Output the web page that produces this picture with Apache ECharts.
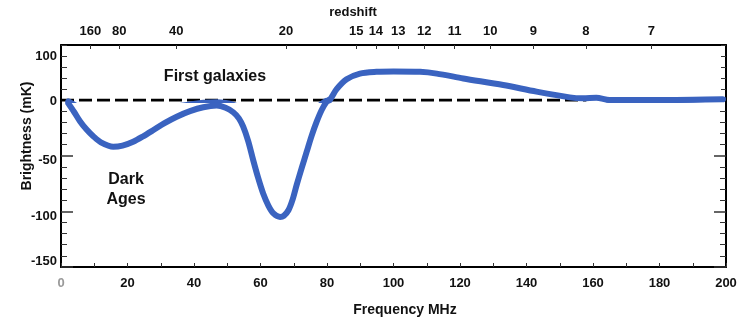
<!DOCTYPE html>
<html>
<head>
<meta charset="utf-8">
<script src="https://cdn.jsdelivr.net/npm/echarts@6/dist/echarts.min.js"></script>
<style>
html,body{margin:0;padding:0;background:#fff;}
#chart{width:741px;height:320px;}
</style>
</head>
<body>
<div id="chart"></div>
<script>
// ---- data ----
const freqMHz = [2.2, 4, 5.7, 7.7, 9.7, 12, 15.7, 18.5, 21.7, 24.5, 27.8, 31, 34.8, 38.8, 42.8, 46.8, 49.5, 51.8, 53.5, 54.8, 56.3, 57.8, 59.3, 60.8, 62.4, 63.9, 65.9, 67, 68.4, 69.7, 70.9, 72.4, 73.9, 75.4, 76.9, 78.4, 79.9, 80.8, 82.9, 85.9, 89.9, 94.9, 100, 108, 113, 121, 133, 143, 153, 157, 161, 165, 170, 180, 190, 199];
const brightness = [-3, -11, -19, -26.5, -32.5, -38, -42, -41, -37.5, -33, -27, -21, -15, -10, -6.5, -5, -7, -11, -16.5, -24, -37, -54, -70, -84, -95, -101.8, -105, -104, -99, -89, -76, -61, -46.4, -32, -19.5, -9, -1.5, 0, 24.5, 47, 60, 64, 65, 64, 60, 49, 34, 19, 6, 4, 5, 0, 0, 0, 0.5, 1.5];
const redshiftLabels = [160, 80, 40, 20, 15, 14, 13, 12, 11, 10, 9, 8, 7];
const zeroLineRange = [0, 158];
const upperTickLabels = [100];
const lowerTickLabels = [0, -50, -100, -150];

// 21-cm line rest frequency (MHz) maps redshift to observed frequency
const REST = 1420.4;
const redshiftFreqs = redshiftLabels.map(z => REST / (1 + z));
const curve = freqMHz.map((f, i) => [f, brightness[i]]);

const FONT = '"Liberation Sans", Arial, sans-serif';
const BLUE = '#3a63c0';
const lineAx = {show: true, onZero: false, lineStyle: {color: '#000', width: 2}};
const labelFont = {fontFamily: FONT, fontWeight: 'bold', fontSize: 13, color: '#111'};

const chart = echarts.init(document.getElementById('chart'), null, {renderer: 'canvas'});
chart.setOption({
  animation: false,
  backgroundColor: '#fff',
  grid: [
    {left: 61, right: 15, top: 45, height: 55},
    {left: 61, right: 15, top: 100, height: 167}
  ],
  xAxis: [
    {
      gridIndex: 0, type: 'value', position: 'top', min: 0, max: 200,
      axisLine: lineAx,
      splitLine: {show: false},
      axisTick: {show: true, inside: true, length: 4, customValues: redshiftFreqs, lineStyle: {color: '#333', width: 1}},
      axisLabel: Object.assign({
        show: true, customValues: redshiftFreqs, margin: 7,
        formatter: function (v) {
          let best = 0, d = 1e9;
          redshiftFreqs.forEach((f, i) => { if (Math.abs(f - v) < d) { d = Math.abs(f - v); best = i; } });
          return String(redshiftLabels[best]);
        }
      }, labelFont)
    },
    {
      gridIndex: 1, type: 'value', position: 'bottom', min: 0, max: 200, interval: 20,
      axisLine: lineAx,
      splitLine: {show: false},
      axisTick: {show: true, inside: true, length: 4, lineStyle: {color: '#333', width: 1}},
      minorTick: {show: true, splitNumber: 2, length: 4, lineStyle: {color: '#333', width: 1}},
      axisLabel: {
        margin: 10, fontFamily: FONT, fontWeight: 'bold', fontSize: 13,
        color: function (v) { return Number(v) === 0 ? '#999' : '#111'; }
      }
    }
  ],
  yAxis: [
    {
      gridIndex: 0, type: 'value', position: 'left', min: 0, max: 125, interval: 25,
      axisLine: lineAx, splitLine: {show: false},
      axisTick: {show: true, inside: true, length: 6, lineStyle: {color: '#333', width: 1}},
      axisLabel: Object.assign({
        margin: 4,
        formatter: v => upperTickLabels.indexOf(Number(v)) >= 0 ? String(v) : ''
      }, labelFont)
    },
    {
      gridIndex: 0, type: 'value', position: 'right', min: 0, max: 125, interval: 25,
      axisLine: lineAx, splitLine: {show: false},
      axisTick: {show: true, inside: true, length: 5, lineStyle: {color: '#333', width: 1}},
      axisLabel: {show: false}
    },
    {
      gridIndex: 1, type: 'value', position: 'left', min: -150, max: 0, interval: 50,
      axisLine: lineAx, splitLine: {show: false},
      axisTick: {show: true, inside: true, length: 12, lineStyle: {color: '#333', width: 1.5}},
      minorTick: {show: true, splitNumber: 5, length: 6, lineStyle: {color: '#333', width: 1}},
      axisLabel: Object.assign({
        margin: 4,
        formatter: function (v) {
          const n = Number(v);
          if (lowerTickLabels.indexOf(n) < 0) return '';
          if (n === -150) return '{up|' + n + '}';
          if (n === 0) return '{mid|' + n + '}';
          return '{down|' + n + '}';
        },
        rich: {
          up: Object.assign({padding: [0, 0, 11, 0]}, labelFont),
          mid: Object.assign({padding: [3, 0, 0, 0]}, labelFont),
          down: Object.assign({padding: [10, 0, 0, 0]}, labelFont)
        }
      }, labelFont)
    },
    {
      gridIndex: 1, type: 'value', position: 'right', min: -150, max: 0, interval: 50,
      axisLine: lineAx, splitLine: {show: false},
      axisTick: {show: true, inside: true, length: 12, lineStyle: {color: '#333', width: 1.5}},
      minorTick: {show: true, splitNumber: 5, length: 6, lineStyle: {color: '#333', width: 1}},
      axisLabel: {show: false}
    }
  ],
  series: [
    {
      type: 'line', xAxisIndex: 1, yAxisIndex: 2, z: 1,
      data: zeroLineRange.map(f => [f, 0]),
      showSymbol: false, silent: true,
      lineStyle: {color: '#000', width: 3, type: [13, 5]}
    },
    {
      type: 'line', xAxisIndex: 0, yAxisIndex: 0, z: 3,
      data: curve, smooth: 0.3, showSymbol: false, clip: true,
      lineStyle: {color: BLUE, width: 6, cap: 'round', join: 'round'}
    },
    {
      type: 'line', xAxisIndex: 1, yAxisIndex: 2, z: 3,
      data: curve, smooth: 0.3, showSymbol: false, clip: true,
      lineStyle: {color: BLUE, width: 6, cap: 'round', join: 'round'}
    }
  ],
  graphic: [
    {type: 'text', x: 353, y: 12, style: {text: 'redshift', font: 'bold 13px ' + FONT, fill: '#111', textAlign: 'center', textVerticalAlign: 'middle'}},
    {type: 'text', x: 27, y: 136, rotation: Math.PI / 2, style: {text: 'Brightness (mK)', font: 'bold 14px ' + FONT, fill: '#111', textAlign: 'center', textVerticalAlign: 'middle'}},
    {type: 'text', x: 405, y: 310, style: {text: 'Frequency MHz', font: 'bold 14px ' + FONT, fill: '#111', textAlign: 'center', textVerticalAlign: 'middle'}},
    {type: 'text', x: 215, y: 77, style: {text: 'First galaxies', font: 'bold 16px ' + FONT, fill: '#111', textAlign: 'center', textVerticalAlign: 'middle'}},
    {type: 'text', x: 126, y: 190, style: {text: 'Dark\nAges', font: 'bold 16px ' + FONT, lineHeight: 20, fill: '#111', textAlign: 'center', textVerticalAlign: 'middle'}}
  ]
});
</script>
</body>
</html>
